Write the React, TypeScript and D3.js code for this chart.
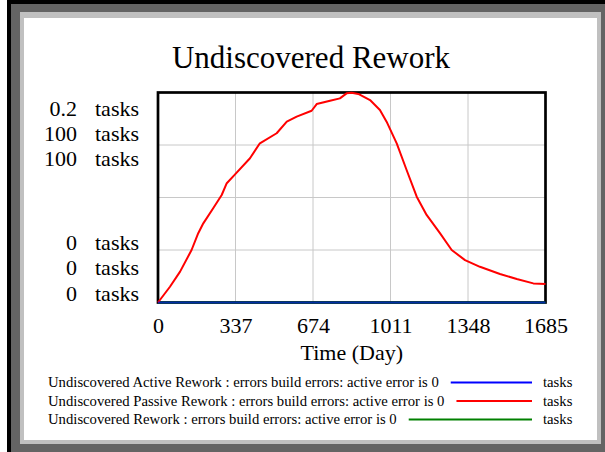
import React, { useRef, useEffect } from 'react';
import * as d3 from 'd3';

// time axis (days) and series values
const timeDays = [0, 52, 96, 146, 175, 197, 240, 277, 299, 335, 400, 443, 516, 560, 603, 668, 690, 748, 791, 820, 842, 871, 922, 965, 994, 1038, 1081, 1125, 1168, 1226, 1277, 1335, 1400, 1487, 1560, 1632, 1685];
const passiveRework = [0, 7.5, 14.7, 25, 33, 37.7, 44.9, 51.2, 56.8, 61, 68.7, 75.8, 80.6, 86.1, 88.5, 91.3, 94.5, 96.1, 97.2, 99.6, 99.9, 99.3, 96.4, 91.7, 86.1, 75.8, 63.1, 50.4, 41.7, 33, 25, 20.2, 17, 13.6, 11.2, 9.1, 8.8];
const activeTime = [0, 1685];
const activeRework = [0, 0];
const reworkTime = [0, 1685];
const undiscoveredRework = [0, 0];

const xTicks = [0, 337, 674, 1011, 1348, 1685];
const yGrid = [25, 50, 75];
const yTopLabels = ['0.2', '100', '100'];
const yBottomLabels = ['0', '0', '0'];
const unitLabel = 'tasks';

const legendNames = [
    'Undiscovered Active Rework : errors build errors: active error is 0',
    'Undiscovered Passive Rework : errors build errors: active error is 0',
    'Undiscovered Rework : errors build errors: active error is 0',
];
const legendColors = ['#0000ff', '#ff0000', '#008000'];

const FONT = '"Liberation Serif", "Times New Roman", serif';

const App = () => {
    const chartRef = useRef<SVGSVGElement>(null);

    useEffect(() => {
        const root = d3.select(chartRef.current);
        root.selectAll('*').remove();

        const W = 605;
        const H = 452;
        root.attr('width', W).attr('height', H);

        // window frame
        root.append('rect').attr('x', 7).attr('y', 0).attr('width', W - 7).attr('height', H).attr('fill', '#000');
        root.append('rect').attr('x', 11).attr('y', 4).attr('width', W - 11).attr('height', H - 4).attr('fill', '#646464');
        root.append('rect').attr('x', 20).attr('y', 12).attr('width', 581).attr('height', 432).attr('fill', '#c0c0c0');
        root.append('rect').attr('x', 24).attr('y', 18).attr('width', 573).attr('height', 422).attr('fill', '#fff');

        const left = 158;
        const right = 545.5;
        const top = 92.5;
        const bottom = 302.5;

        const x = d3.scaleLinear().domain([0, 1685]).range([left, right]);
        const yPassive = d3.scaleLinear().domain([0, 100]).range([bottom, top]);
        const yActive = d3.scaleLinear().domain([0, 0.2]).range([bottom, top]);
        const yRework = d3.scaleLinear().domain([0, 100]).range([bottom, top]);

        // title
        root.append('text')
            .attr('x', 311)
            .attr('y', 68)
            .attr('text-anchor', 'middle')
            .style('font-family', FONT)
            .style('font-size', '31px')
            .attr('fill', '#000')
            .text('Undiscovered Rework');

        // grid
        const grid = root.append('g').attr('stroke', '#c8c8c8').attr('stroke-width', 1);
        xTicks.slice(1, -1).forEach((t) => {
            grid.append('line').attr('x1', x(t)).attr('x2', x(t)).attr('y1', top).attr('y2', bottom);
        });
        yGrid.forEach((v) => {
            grid.append('line').attr('x1', left).attr('x2', right).attr('y1', yPassive(v)).attr('y2', yPassive(v));
        });

        // plot frame
        root.append('rect')
            .attr('x', left).attr('y', top)
            .attr('width', right - left).attr('height', bottom - top)
            .attr('fill', 'none').attr('stroke', '#000').attr('stroke-width', 2.7);

        const drawLine = (times: number[], vals: number[], ys: d3.ScaleLinear<number, number>, color: string, opacity = 1) => {
            const line = d3.line<number>()
                .x((d, i) => x(times[i]))
                .y((d) => ys(d));
            root.append('path')
                .datum(vals)
                .attr('d', line)
                .attr('fill', 'none')
                .attr('stroke', color)
                .attr('stroke-opacity', opacity)
                .attr('stroke-width', 2)
                .attr('stroke-linejoin', 'round');
        };
        drawLine(reworkTime, undiscoveredRework, yRework, legendColors[2]);
        drawLine(timeDays, passiveRework, yPassive, legendColors[1]);
        // sits on the black frame, so it reads darker like the reference
        drawLine(activeTime, activeRework, yActive, legendColors[0], 0.65);

        // y labels, one per series, top and bottom
        const labelG = root.append('g').style('font-family', FONT).style('font-size', '22px').attr('fill', '#000');
        const rowGap = 25.3;
        yTopLabels.forEach((lab, i) => {
            const yy = top + 23 + i * rowGap;
            labelG.append('text').attr('x', 77).attr('y', yy).attr('text-anchor', 'end').text(lab);
            labelG.append('text').attr('x', 95).attr('y', yy).text(unitLabel);
        });
        yBottomLabels.forEach((lab, i) => {
            const yy = bottom - 2 - (yBottomLabels.length - 1 - i) * rowGap;
            labelG.append('text').attr('x', 77).attr('y', yy).attr('text-anchor', 'end').text(lab);
            labelG.append('text').attr('x', 95).attr('y', yy).text(unitLabel);
        });

        // x axis labels
        const xAxis = d3.axisBottom(x).tickValues(xTicks).tickSize(0).tickPadding(0).tickFormat(d3.format('d'));
        const xg = root.append('g').attr('transform', `translate(0, ${bottom})`).call(xAxis);
        xg.select('.domain').remove();
        xg.selectAll('text')
            .attr('y', 30)
            .attr('dy', null)
            .style('font-family', FONT)
            .style('font-size', '22px')
            .attr('fill', '#000');

        root.append('text')
            .attr('x', (left + right) / 2)
            .attr('y', 360)
            .attr('text-anchor', 'middle')
            .style('font-family', FONT)
            .style('font-size', '22px')
            .attr('fill', '#000')
            .text('Time (Day)');

        // legend
        const legend = root.append('g').style('font-family', FONT).style('font-size', '14.7px').attr('fill', '#000');
        legendNames.forEach((name, i) => {
            const base = 387 + i * 18.5;
            const t = legend.append('text').attr('x', 48).attr('y', base).text(name);
            const w = (t.node() as SVGTextElement).getComputedTextLength();
            legend.append('line')
                .attr('x1', 48 + w + 12).attr('x2', 532)
                .attr('y1', base - 4.5).attr('y2', base - 4.5)
                .attr('stroke', legendColors[i]).attr('stroke-width', 2);
            legend.append('text').attr('x', 543).attr('y', base).text(unitLabel);
        });
    }, []);

    return <svg ref={chartRef} style={{ position: 'absolute', left: 0, top: 0, display: 'block' }}></svg>;
};

export default App;
